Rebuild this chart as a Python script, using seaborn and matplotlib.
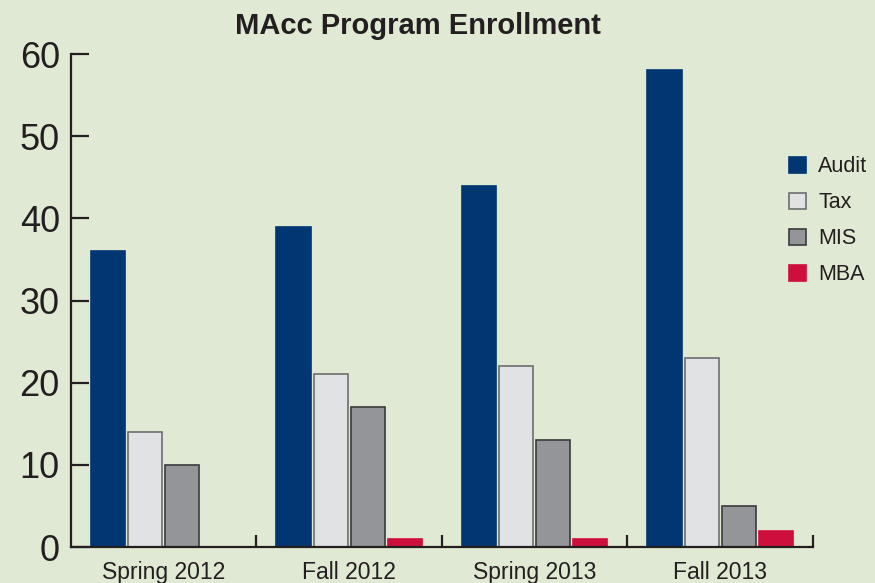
import pandas as pd
import seaborn as sns
import matplotlib.pyplot as plt

terms = ['Spring 2012', 'Fall 2012', 'Spring 2013', 'Fall 2013']
programs = ['Audit', 'Tax', 'MIS', 'MBA']
audit = [36, 39, 44, 58]
tax = [14, 21, 22, 23]
mis = [10, 17, 13, 5]
mba = [0, 1, 1, 2]

colors = ['#003672', '#E1E2E4', '#939598', '#CE0E3D']
edges = ['#003672', '#6D6E70', '#3A3A3C', '#CE0E3D']
bg = '#E0E9D3'
ink = '#231F20'

rows = []
for prog, vals in zip(programs, [audit, tax, mis, mba]):
    for term, v in zip(terms, vals):
        rows.append({'Term': term, 'Program': prog, 'Students': v})
df = pd.DataFrame(rows)

sns.set_style('white')
plt.rcParams['font.family'] = ['Liberation Sans', 'DejaVu Sans']

fig = plt.figure(figsize=(8.75, 5.83), dpi=100, facecolor=bg)
ax = fig.add_axes([0.0811, 0.0617, 0.848, 0.8456])
ax.set_facecolor(bg)

sns.barplot(data=df, x='Term', y='Students', hue='Program', order=terms,
            hue_order=programs, palette=colors, width=0.8, gap=0.08,
            saturation=1, ax=ax, legend=False)

for cont, ec in zip(ax.containers, edges):
    for bar in cont:
        bar.set_edgecolor(ec)
        bar.set_linewidth(1.2)

ax.set_xlim(-0.5, 3.5)
ax.set_ylim(0, 60)
ax.set_yticks(range(0, 61, 10))
ax.set_xlabel('')
ax.set_ylabel('')

sns.despine(ax=ax)
for s in ['left', 'bottom']:
    ax.spines[s].set_color(ink)
    ax.spines[s].set_linewidth(1.6)

ax.tick_params(axis='y', direction='in', length=13, width=1.6, color=ink,
               labelsize=26, labelcolor=ink, pad=8, left=True)
ax.tick_params(axis='x', which='major', length=0, labelsize=16.5,
               labelcolor=ink, pad=10)
ax.set_xticks([0.5, 1.5, 2.5, 3.5], minor=True)
ax.tick_params(axis='x', which='minor', direction='in', length=9, width=1.6,
               color=ink, bottom=True)

fig.text(0.478, 0.955, 'MAcc Program Enrollment', ha='center', va='center',
         fontsize=21, fontweight='bold', color=ink)

handles = [plt.Rectangle((0, 0), 1, 1, facecolor=c, edgecolor=e, linewidth=1.2)
           for c, e in zip(colors, edges)]
fig.legend(handles, programs, loc='upper left', bbox_to_anchor=(0.902, 0.732),
           frameon=False, fontsize=15.5, handlelength=0.8, handleheight=0.8,
           handletextpad=0.55, labelspacing=0.7, borderaxespad=0,
           borderpad=0, labelcolor=ink)

fig.savefig('out.png', dpi=100, facecolor=bg)
